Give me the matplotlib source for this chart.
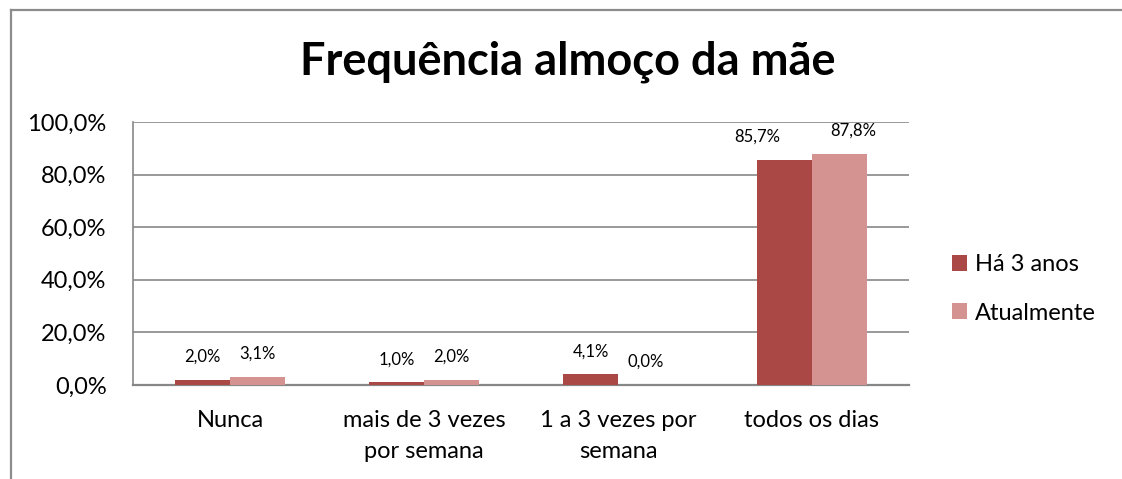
import matplotlib
matplotlib.use("Agg")
import matplotlib.pyplot as plt
from matplotlib.lines import Line2D
from matplotlib.patches import Patch
import numpy as np

plt.rcParams['font.family'] = ['Lato', 'DejaVu Sans']

categories = ["Nunca", "mais de 3 vezes\npor semana", "1 a 3 vezes por\nsemana", "todos os dias"]
series_names = ["Há 3 anos", "Atualmente"]
ha_3_anos = [2.0, 1.0, 4.1, 85.7]
atualmente = [3.1, 2.0, 0.0, 87.8]
y_ticks = [0, 20, 40, 60, 80, 100]
title = "Frequência almoço da mãe"

colors = ["#AA4845", "#D49290"]
grid_color = "#878787"

W, H = 1122, 479
fig = plt.figure(figsize=(W / 100, H / 100), dpi=100)
ax = fig.add_axes([133 / W, (H - 385) / H, (909 - 133) / W, (385 - 122) / H])

x = np.arange(len(categories))
bw = 0.283
series = [ha_3_anos, atualmente]
# horizontal nudges (pixels) for labels that would otherwise crowd each other
nudges = [[0, 0, 0, -27], [0, 0, 0, 14]]
for i, (vals, col) in enumerate(zip(series, colors)):
    pos = x + (i - 0.5) * bw
    ax.bar(pos, vals, width=bw, color=col, zorder=3, label=series_names[i])
    for j, (p, v) in enumerate(zip(pos, vals)):
        ax.annotate(f"{v:.1f}%".replace(".", ","), (p, v),
                    xytext=(nudges[i][j], 23), textcoords="offset pixels",
                    ha="center", va="center", fontsize=12, color="#000000")

ax.set_xlim(-0.5, len(categories) - 0.5)
ax.set_ylim(0, 100)
ax.set_yticks(y_ticks)
ax.set_yticklabels([f"{t:.1f}%".replace(".", ",") for t in y_ticks])
ax.set_xticks(x)
ax.set_xticklabels(categories, linespacing=1.6)
ax.tick_params(axis="y", length=0, pad=19, labelsize=17)
ax.tick_params(axis="x", length=0, pad=18, labelsize=17)
ax.yaxis.grid(True, color=grid_color, linewidth=1.2, zorder=0)
ax.set_axisbelow(True)
for s in ["top", "right"]:
    ax.spines[s].set_visible(False)
ax.spines["left"].set_color(grid_color)
ax.spines["bottom"].set_color(grid_color)
ax.spines["left"].set_linewidth(1.2)
ax.spines["bottom"].set_linewidth(1.6)

fig.text(568 / W, (H - 62) / H, title, ha="center", va="center",
         fontsize=32.5, fontweight="bold")

handles = [Patch(facecolor=c, edgecolor="none") for c in colors]
fig.legend(handles, series_names, loc="center left",
           bbox_to_anchor=(940 / W, (H - 289) / H), frameon=False,
           fontsize=17, handlelength=0.65, handleheight=0.65,
           handletextpad=0.35, labelspacing=1.15, borderpad=0)

# chart frame
fig.add_artist(Line2D([11 / W, 11 / W], [0, (H - 10) / H], transform=fig.transFigure,
                      color="#8C8C8C", linewidth=1.6))
fig.add_artist(Line2D([11 / W, 1], [(H - 10) / H, (H - 10) / H], transform=fig.transFigure,
                      color="#8C8C8C", linewidth=1.6))

fig.savefig("out.png", dpi=100)
